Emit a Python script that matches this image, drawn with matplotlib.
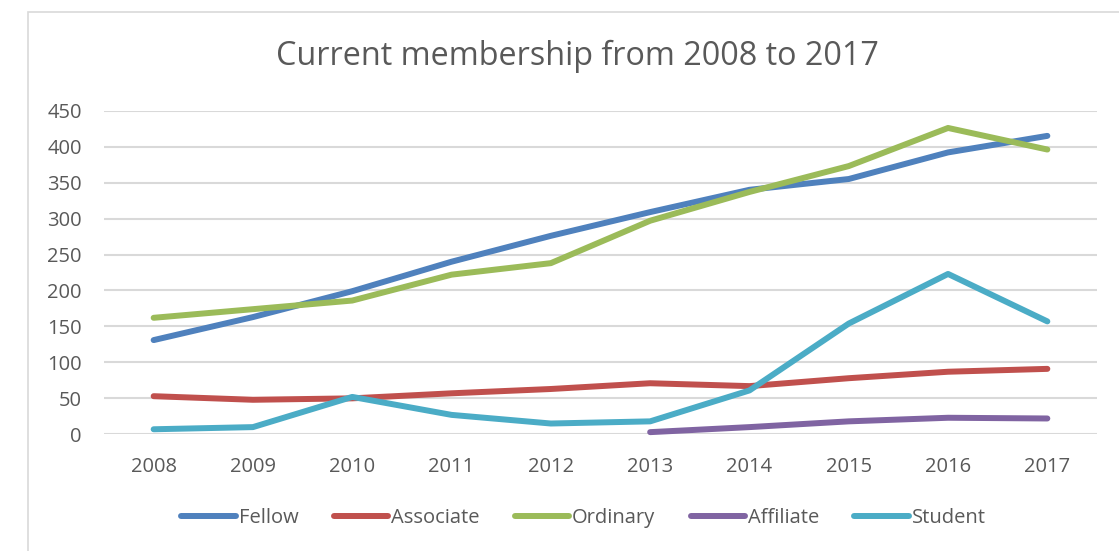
import numpy as np
import matplotlib
matplotlib.use("Agg")
import matplotlib.pyplot as plt
from matplotlib.patches import Rectangle

years = ["2008", "2009", "2010", "2011", "2012", "2013", "2014", "2015", "2016", "2017"]
fellow = [131, 163, 199, 240, 276, 309, 340, 355, 392, 415]
associate = [53, 48, 50, 57, 63, 71, 67, 78, 87, 91]
ordinary = [162, 174, 186, 222, 238, 297, 337, 373, 426, 396]
affiliate = [np.nan, np.nan, np.nan, np.nan, np.nan, 3, 10, 18, 23, 22]
student = [7, 10, 52, 27, 15, 18, 61, 154, 223, 157]

series = [
    ("Fellow", fellow, "#4F81BD"),
    ("Associate", associate, "#C0504D"),
    ("Ordinary", ordinary, "#9BBB59"),
    ("Affiliate", affiliate, "#8064A2"),
    ("Student", student, "#4BACC6"),
]

plt.rcParams["font.family"] = ["Open Sans", "DejaVu Sans"]
W, H = 1119, 551
fig = plt.figure(figsize=(W / 100, H / 100), dpi=100)

# chart area border (top-left corner visible)
fig.patches.append(Rectangle((28 / W, -0.1), 1.2, 1 - 11.5 / H + 0.1,
                             transform=fig.transFigure, fill=False,
                             edgecolor="#D9D9D9", linewidth=1.2))

ax = fig.add_axes([104 / W, 1 - 434.3 / H, (1097 - 104) / W, (434.3 - 110.7) / H])
x = np.arange(len(years))
for name, vals, color in series:
    ax.plot(x, vals, color=color, linewidth=4.3, label=name,
            solid_capstyle="round", solid_joinstyle="round", clip_on=False)

ax.set_xlim(-0.5, len(years) - 0.5)
ax.set_ylim(0, 450)
ax.set_yticks(np.arange(0, 451, 50))
ax.set_xticks(x)
ax.set_xticklabels(years)
ax.grid(axis="y", color="#D9D9D9", linewidth=1.5)
ax.set_axisbelow(True)
for s in ax.spines.values():
    s.set_visible(False)
ax.tick_params(axis="both", length=0, labelsize=14.5, labelcolor="#595959")
ax.tick_params(axis="y", pad=16)
ax.tick_params(axis="x", pad=16)

fig.text(577 / W, 1 - 56 / H, "Current membership from 2008 to 2017",
         ha="center", va="center", fontsize=23.3, color="#595959")

fig.legend(loc="center", bbox_to_anchor=(583.5 / W, 1 - 518 / H), ncol=5,
           frameon=False, fontsize=14.5, labelcolor="#595959",
           handlelength=2.7, handletextpad=0.15, columnspacing=1.75)

fig.savefig("out.png", dpi=100)
